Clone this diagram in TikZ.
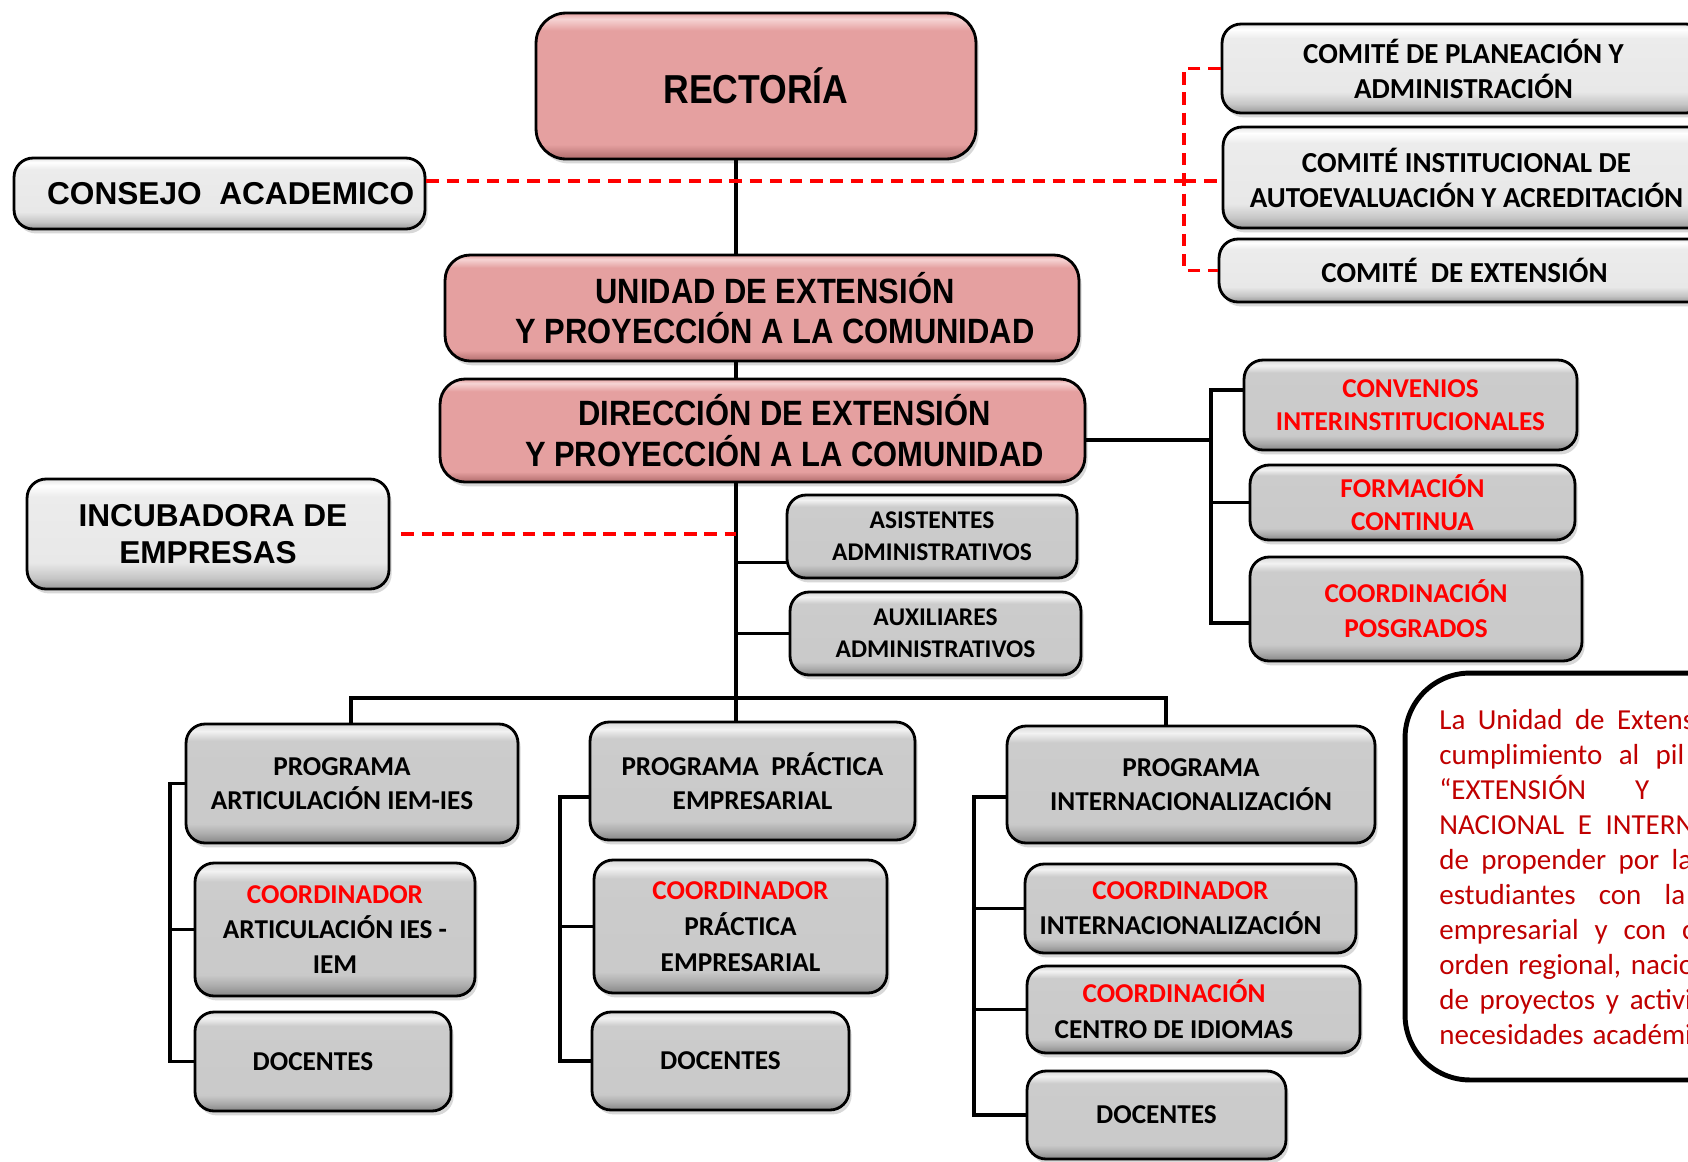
\documentclass[tikz,border=0pt]{standalone}
\usepackage{fontspec}
\setmainfont{Carlito}
\newfontfamily\arialf{Liberation Sans}
\newfontfamily\narrowf[FakeStretch=0.88]{Liberation Sans}
\usetikzlibrary{shadows}
\definecolor{pinkface}{RGB}{229,160,160}
\definecolor{pinklight}{RGB}{246,212,212}
\definecolor{pinkdark}{RGB}{176,108,108}
\definecolor{notered}{RGB}{192,0,0}
\pgfdeclareverticalshading{graybevel}{100bp}{color(0bp)=(gray!95); color(25bp)=(gray!95); color(29bp)=(gray!65); color(33bp)=(gray!42); color(68bp)=(gray!40); color(72bp)=(gray!10); color(75bp)=(gray!30); color(100bp)=(gray!30)}
\pgfdeclareverticalshading{lightbevel}{100bp}{color(0bp)=(gray!80); color(25bp)=(gray!80); color(30bp)=(gray!45); color(37bp)=(gray!18); color(67bp)=(gray!15); color(72bp)=(white); color(75bp)=(gray!20); color(100bp)=(gray!20)}
\pgfdeclareverticalshading{pinkbevel}{100bp}{color(0bp)=(pinkdark); color(25bp)=(pinkdark); color(30bp)=(pinkface); color(69bp)=(pinkface); color(73bp)=(pinklight); color(75bp)=(pinkface); color(100bp)=(pinkface)}
\begin{document}
\begin{tikzpicture}[x=0.02cm, y=-0.02cm,
    box/.style={draw=black, line width=1.6pt, rounded corners=0.38cm, inner sep=0pt, align=center,
        drop shadow={opacity=0.3, shadow xshift=1.5pt, shadow yshift=-2.5pt}},
    graybox/.style={box, shade, shading=graybevel, font=\bfseries\fontsize{15.5}{19.5}\selectfont},
    lightbox/.style={box, shade, shading=lightbevel, font=\bfseries\fontsize{16.5}{20}\selectfont},
    pinkbox/.style={box, shade, shading=pinkbevel, rounded corners=0.5cm, font=\narrowf\bfseries\fontsize{20}{23}\selectfont},
    conn/.style={line width=1.8pt},
    reddash/.style={red, line width=1.9pt, dash pattern=on 7pt off 4.5pt},
    notetext/.style={anchor=base west, inner sep=0pt, text=notered, font=\fontsize{16.5}{20}\selectfont}]
    \useasboundingbox (0,0) rectangle (1688,1161);
    \clip (0,0) rectangle (1688,1161);
    \fill[white] (0,0) rectangle (1688,1161);
    % cabeza
    \node[pinkbox, rounded corners=0.6cm, font=\narrowf\bfseries\fontsize{23}{28}\selectfont,
        minimum width=8.8cm, minimum height=2.92cm] (rect) at (756,86) {RECTORÍA};
    \node[lightbox, font=\arialf\bfseries\fontsize{18}{22}\selectfont,
        minimum width=8.22cm, minimum height=1.42cm] (consejo) at (219.5,193.5) {\hspace*{0.45cm}CONSEJO\ \ ACADEMICO};
    \node[pinkbox, minimum width=12.68cm, minimum height=2.12cm] (unidad) at (762,308)
        {\hspace*{0.52cm}UNIDAD DE EXTENSIÓN\\\hspace*{0.52cm}Y PROYECCIÓN A LA COMUNIDAD};
    \node[pinkbox, minimum width=12.9cm, minimum height=2.06cm] (direccion) at (762.5,430.5)
        {\hspace*{0.88cm}DIRECCIÓN DE EXTENSIÓN\\\hspace*{0.88cm}Y PROYECCIÓN A LA COMUNIDAD};
    \node[lightbox, font=\arialf\bfseries\fontsize{18}{21.5}\selectfont,
        minimum width=7.24cm, minimum height=2.2cm] (incub) at (208,534) {\hspace*{0.2cm}INCUBADORA DE\\EMPRESAS};
    % comites
    \node[lightbox, minimum width=9.66cm, minimum height=1.78cm] (cplan) at (1463.5,68.5) {COMITÉ DE PLANEACIÓN Y\\ADMINISTRACIÓN};
    \node[lightbox, minimum width=9.74cm, minimum height=2.02cm] (cauto) at (1466.5,177.5) {COMITÉ INSTITUCIONAL DE\\AUTOEVALUACIÓN Y ACREDITACIÓN};
    \node[lightbox, minimum width=9.82cm, minimum height=1.26cm] (cext) at (1464.5,270.5) {COMITÉ\ \ DE EXTENSIÓN};
    % apoyo
    \node[graybox, font=\bfseries\fontsize{14.5}{18}\selectfont, minimum width=5.8cm, minimum height=1.66cm] (asist) at (932,536.5) {ASISTENTES\\ADMINISTRATIVOS};
    \node[graybox, font=\bfseries\fontsize{14.5}{18}\selectfont, minimum width=5.82cm, minimum height=1.66cm] (aux) at (935.5,633.5) {AUXILIARES\\ADMINISTRATIVOS};
    \node[graybox, text=red, font=\bfseries\fontsize{15.5}{19}\selectfont, minimum width=6.66cm, minimum height=1.8cm] (conv) at (1410.5,405) {CONVENIOS\\INTERINSTITUCIONALES};
    \node[graybox, text=red, font=\bfseries\fontsize{15.5}{19}\selectfont, minimum width=6.5cm, minimum height=1.5cm] (formac) at (1412.5,502.5) {FORMACIÓN\\CONTINUA};
    \node[graybox, text=red, font=\bfseries\fontsize{15.5}{20}\selectfont, minimum width=6.64cm, minimum height=2.08cm] (posgr) at (1416,609) {COORDINACIÓN\\POSGRADOS};
    % programas
    \node[graybox, minimum width=6.64cm, minimum height=2.38cm] (pArt) at (352,783.5) {PROGRAMA\hspace*{0.4cm}\\ARTICULACIÓN IEM-IES\hspace*{0.4cm}};
    \node[graybox, minimum width=6.5cm, minimum height=2.36cm] (pPra) at (752.5,781) {PROGRAMA\ \ PRÁCTICA\\EMPRESARIAL};
    \node[graybox, minimum width=7.36cm, minimum height=2.34cm] (pInt) at (1191,784.5) {PROGRAMA\\INTERNACIONALIZACIÓN};
    \node[graybox, font=\bfseries\fontsize{15.5}{20}\selectfont, minimum width=5.6cm, minimum height=2.66cm] (cArt) at (335,929.5)
        {\textcolor{red}{COORDINADOR}\\ARTICULACIÓN IES -\\IEM};
    \node[graybox, font=\bfseries\fontsize{15.5}{20.5}\selectfont, minimum width=5.86cm, minimum height=2.66cm] (cPra) at (740.5,926.5)
        {\textcolor{red}{COORDINADOR}\\PRÁCTICA\\EMPRESARIAL};
    \node[graybox, font=\bfseries\fontsize{15.5}{20}\selectfont, minimum width=6.62cm, minimum height=1.78cm] (cInt) at (1190.5,908.5)
        {\textcolor{red}{COORDINADOR}\hspace*{0.4cm}\\INTERNACIONALIZACIÓN\hspace*{0.4cm}};
    \node[graybox, font=\bfseries\fontsize{15.5}{20.5}\selectfont, minimum width=6.66cm, minimum height=1.74cm] (cIdi) at (1193.5,1009.5)
        {\textcolor{red}{COORDINACIÓN}\hspace*{0.78cm}\\CENTRO DE IDIOMAS\hspace*{0.78cm}};
    \node[graybox, minimum width=5.12cm, minimum height=1.98cm] (dArt) at (323,1061.5) {DOCENTES\hspace*{0.4cm}};
    \node[graybox, minimum width=5.14cm, minimum height=1.96cm] (dPra) at (720.5,1061) {DOCENTES};
    \node[graybox, minimum width=5.18cm, minimum height=1.76cm] (dInt) at (1156.5,1115) {DOCENTES};
    % nota
    \node[draw, line width=2.8pt, rounded corners=1.3cm, minimum width=7.1cm, minimum height=8.14cm] (nota) at (1582.5,876.5) {};
    \foreach \w/\t [count=\i] in {5.1/{La Unidad de Extens}, 4.9/{cumplimiento al pil}, 4.2/{“EXTENSIÓN Y},
        5.1/{NACIONAL E INTERN}, 5.06/{de propender por la}, 4.92/{estudiantes con la}, 5.1/{empresarial y con c},
        5.1/{orden regional, nacio}, 5.05/{de proyectos y activi}, 5.05/{necesidades académi}}
        \node[notetext] (linea\i) at (1439,{729+35.1*(\i-1)}) {\makebox[\w cm][s]{\t}};
    % linea central
    \coordinate (spine) at (736,0);
    \draw[conn] (rect.south -| spine) -- (unidad.north -| spine);
    \draw[conn] (unidad.south -| spine) -- (direccion.north -| spine);
    \draw[conn] (direccion.south -| spine) -- (pPra.north -| spine);
    \coordinate (busL) at (351,698);
    \coordinate (busR) at (1166,698);
    \draw[conn] (pArt.north -| busL) -- (busL) -- (busR) -- (pInt.north -| busR);
    \coordinate (asistIn) at ([yshift=-0.52cm]asist.west);
    \draw[conn] (asistIn) -- (asistIn -| spine);
    \draw[conn] (aux.west) -- (aux.west -| spine);
    % derecha
    \coordinate (jR) at (1211,440);
    \coordinate (convIn) at ([yshift=0.3cm]conv.west);
    \coordinate (posgrIn) at ([yshift=-0.28cm]posgr.west);
    \draw[conn] (direccion.east |- jR) -- (jR);
    \draw[conn] (convIn) -| (jR) |- (posgrIn);
    \draw[conn] (formac.west) -- (formac.west -| jR);
    % columnas
    \coordinate (colA) at (170,0);
    \coordinate (colB) at (560,0);
    \coordinate (colC) at (974,0);
    \coordinate (pPraIn) at ([yshift=-0.32cm]pPra.west);
    \coordinate (pIntIn) at ([yshift=-0.25cm]pInt.west);
    \draw[conn] (pArt.west) -- (pArt.west -| colA) |- (dArt.west);
    \draw[conn] (cArt.west) -- (cArt.west -| colA);
    \draw[conn] (pPraIn) -- (pPraIn -| colB) |- (dPra.west);
    \draw[conn] (cPra.west) -- (cPra.west -| colB);
    \draw[conn] (pIntIn) -- (pIntIn -| colC) |- (dInt.west);
    \draw[conn] (cInt.west) -- (cInt.west -| colC);
    \draw[conn] (cIdi.west) -- (cIdi.west -| colC);
    % lineas rojas
    \coordinate (dB) at (1184,181);
    \draw[reddash] (consejo.east |- dB) -- (dB);
    \draw[reddash] (cplan.west) -| (dB) |- (cext.west);
    \draw[reddash] (dB) -- (dB -| cauto.west);
    \draw[reddash] ([xshift=0.22cm]incub.east) -- (incub.east -| spine);
\end{tikzpicture}
\end{document}
